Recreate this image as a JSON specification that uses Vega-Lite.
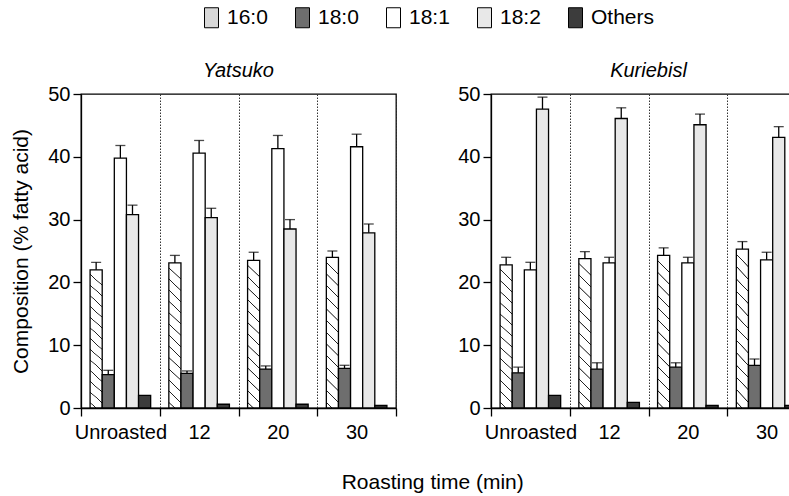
{
  "$schema": "https://vega.github.io/schema/vega-lite/v6.json",
  "padding": {"left": 10, "top": 7, "right": 0, "bottom": 5},
  "background": "white",
  "data": {"values": [
    {"cultivar": "Yatsuko", "time": "Unroasted", "acid": "16:0", "value": 22.0, "upper": 23.2},
    {"cultivar": "Yatsuko", "time": "Unroasted", "acid": "18:0", "value": 5.3, "upper": 6.0},
    {"cultivar": "Yatsuko", "time": "Unroasted", "acid": "18:1", "value": 39.8, "upper": 41.8},
    {"cultivar": "Yatsuko", "time": "Unroasted", "acid": "18:2", "value": 30.8, "upper": 32.3},
    {"cultivar": "Yatsuko", "time": "Unroasted", "acid": "Others", "value": 2.0, "upper": null},
    {"cultivar": "Yatsuko", "time": "12", "acid": "16:0", "value": 23.1, "upper": 24.3},
    {"cultivar": "Yatsuko", "time": "12", "acid": "18:0", "value": 5.5, "upper": 5.9},
    {"cultivar": "Yatsuko", "time": "12", "acid": "18:1", "value": 40.6, "upper": 42.6},
    {"cultivar": "Yatsuko", "time": "12", "acid": "18:2", "value": 30.3, "upper": 31.8},
    {"cultivar": "Yatsuko", "time": "12", "acid": "Others", "value": 0.6, "upper": null},
    {"cultivar": "Yatsuko", "time": "20", "acid": "16:0", "value": 23.5, "upper": 24.8},
    {"cultivar": "Yatsuko", "time": "20", "acid": "18:0", "value": 6.2, "upper": 6.7},
    {"cultivar": "Yatsuko", "time": "20", "acid": "18:1", "value": 41.3, "upper": 43.4},
    {"cultivar": "Yatsuko", "time": "20", "acid": "18:2", "value": 28.5, "upper": 30.0},
    {"cultivar": "Yatsuko", "time": "20", "acid": "Others", "value": 0.6, "upper": null},
    {"cultivar": "Yatsuko", "time": "30", "acid": "16:0", "value": 24.0, "upper": 25.0},
    {"cultivar": "Yatsuko", "time": "30", "acid": "18:0", "value": 6.3, "upper": 6.8},
    {"cultivar": "Yatsuko", "time": "30", "acid": "18:1", "value": 41.6, "upper": 43.6},
    {"cultivar": "Yatsuko", "time": "30", "acid": "18:2", "value": 27.9, "upper": 29.3},
    {"cultivar": "Yatsuko", "time": "30", "acid": "Others", "value": 0.4, "upper": null},
    {"cultivar": "Kuriebisl", "time": "Unroasted", "acid": "16:0", "value": 22.8, "upper": 24.0},
    {"cultivar": "Kuriebisl", "time": "Unroasted", "acid": "18:0", "value": 5.6, "upper": 6.5},
    {"cultivar": "Kuriebisl", "time": "Unroasted", "acid": "18:1", "value": 22.0, "upper": 23.2},
    {"cultivar": "Kuriebisl", "time": "Unroasted", "acid": "18:2", "value": 47.6, "upper": 49.5},
    {"cultivar": "Kuriebisl", "time": "Unroasted", "acid": "Others", "value": 2.0, "upper": null},
    {"cultivar": "Kuriebisl", "time": "12", "acid": "16:0", "value": 23.8, "upper": 24.9},
    {"cultivar": "Kuriebisl", "time": "12", "acid": "18:0", "value": 6.2, "upper": 7.2},
    {"cultivar": "Kuriebisl", "time": "12", "acid": "18:1", "value": 23.1, "upper": 24.0},
    {"cultivar": "Kuriebisl", "time": "12", "acid": "18:2", "value": 46.1, "upper": 47.8},
    {"cultivar": "Kuriebisl", "time": "12", "acid": "Others", "value": 0.9, "upper": null},
    {"cultivar": "Kuriebisl", "time": "20", "acid": "16:0", "value": 24.3, "upper": 25.5},
    {"cultivar": "Kuriebisl", "time": "20", "acid": "18:0", "value": 6.5, "upper": 7.2},
    {"cultivar": "Kuriebisl", "time": "20", "acid": "18:1", "value": 23.1, "upper": 24.0},
    {"cultivar": "Kuriebisl", "time": "20", "acid": "18:2", "value": 45.1, "upper": 46.8},
    {"cultivar": "Kuriebisl", "time": "20", "acid": "Others", "value": 0.4, "upper": null},
    {"cultivar": "Kuriebisl", "time": "30", "acid": "16:0", "value": 25.3, "upper": 26.5},
    {"cultivar": "Kuriebisl", "time": "30", "acid": "18:0", "value": 6.8, "upper": 7.8},
    {"cultivar": "Kuriebisl", "time": "30", "acid": "18:1", "value": 23.6, "upper": 24.8},
    {"cultivar": "Kuriebisl", "time": "30", "acid": "18:2", "value": 43.1, "upper": 44.8},
    {"cultivar": "Kuriebisl", "time": "30", "acid": "Others", "value": 0.4, "upper": null}
  ]},
  "config": {
    "font": "Liberation Sans",
    "view": {"stroke": "black", "strokeWidth": 1.3},
    "axis": {
      "labelFont": "Liberation Sans", "labelFontSize": 20, "labelColor": "black",
      "titleFont": "Liberation Sans", "titleFontSize": 21, "titleFontWeight": "normal", "titleColor": "black",
      "domainColor": "black", "tickColor": "black", "tickSize": 8, "domainWidth": 1.3, "tickWidth": 1.3
    },
    "legend": {"labelFont": "Liberation Sans", "labelFontSize": 21, "labelColor": "black"}
  },
  "spacing": 59,
  "title": {"text": "Roasting time (min)", "orient": "bottom", "anchor": "middle", "font": "Liberation Sans", "fontSize": 21, "fontWeight": "normal", "color": "black", "offset": 29, "dx": 24},
  "hconcat": [
    {
      "title": {"text": "Yatsuko", "fontStyle": "italic", "fontWeight": "normal", "fontSize": 20, "font": "Liberation Sans", "color": "black", "offset": 3},
      "width": 315, "height": 314,
      "transform": [{"filter": "datum.cultivar == 'Yatsuko'"}],
      "encoding": {
        "x": {"field": "time", "type": "nominal", "sort": ["Unroasted", "12", "20", "30"],
              "scale": {"paddingInner": 0, "paddingOuter": 0},
              "axis": {"title": null, "labelAngle": 0, "tickBand": "extent", "grid": true, "gridDash": [1.5, 1.5], "gridColor": "#333", "gridWidth": 1, "labelPadding": 6}},
        "xOffset": {"field": "acid", "type": "nominal", "sort": ["16:0", "18:0", "18:1", "18:2", "Others"],
                    "scale": {"paddingInner": 0, "paddingOuter": 0.75}}
      },
      "layer": [
        {
          "mark": {"type": "bar", "stroke": "black", "strokeWidth": 1.3},
          "encoding": {
            "y": {"field": "value", "type": "quantitative", "scale": {"domain": [0, 50]},
                  "axis": {"title": "Composition (% fatty acid)", "values": [0, 10, 20, 30, 40, 50], "grid": false, "labelPadding": 3, "titlePadding": 16}},
            "fill": {"condition": {"test": "datum.acid == '16:0'", "value": {"gradient": "linear", "x1": 0.08, "y1": 0, "x2": 0, "y2": 1, "stops": [
                         {"offset": 0.0, "color": "#ffffff"},
                         {"offset": 0.0335, "color": "#ffffff"}, {"offset": 0.0365, "color": "#222222"}, {"offset": 0.0405, "color": "#222222"}, {"offset": 0.0435, "color": "#ffffff"},
                         {"offset": 0.1104, "color": "#ffffff"}, {"offset": 0.1134, "color": "#222222"}, {"offset": 0.1174, "color": "#222222"}, {"offset": 0.1204, "color": "#ffffff"},
                         {"offset": 0.1873, "color": "#ffffff"}, {"offset": 0.1903, "color": "#222222"}, {"offset": 0.1943, "color": "#222222"}, {"offset": 0.1973, "color": "#ffffff"},
                         {"offset": 0.2642, "color": "#ffffff"}, {"offset": 0.2672, "color": "#222222"}, {"offset": 0.2712, "color": "#222222"}, {"offset": 0.2742, "color": "#ffffff"},
                         {"offset": 0.3412, "color": "#ffffff"}, {"offset": 0.3442, "color": "#222222"}, {"offset": 0.3482, "color": "#222222"}, {"offset": 0.3512, "color": "#ffffff"},
                         {"offset": 0.4181, "color": "#ffffff"}, {"offset": 0.4211, "color": "#222222"}, {"offset": 0.4251, "color": "#222222"}, {"offset": 0.4281, "color": "#ffffff"},
                         {"offset": 0.4950, "color": "#ffffff"}, {"offset": 0.4980, "color": "#222222"}, {"offset": 0.5020, "color": "#222222"}, {"offset": 0.5050, "color": "#ffffff"},
                         {"offset": 0.5719, "color": "#ffffff"}, {"offset": 0.5749, "color": "#222222"}, {"offset": 0.5789, "color": "#222222"}, {"offset": 0.5819, "color": "#ffffff"},
                         {"offset": 0.6488, "color": "#ffffff"}, {"offset": 0.6518, "color": "#222222"}, {"offset": 0.6558, "color": "#222222"}, {"offset": 0.6588, "color": "#ffffff"},
                         {"offset": 0.7258, "color": "#ffffff"}, {"offset": 0.7288, "color": "#222222"}, {"offset": 0.7328, "color": "#222222"}, {"offset": 0.7358, "color": "#ffffff"},
                         {"offset": 0.8027, "color": "#ffffff"}, {"offset": 0.8057, "color": "#222222"}, {"offset": 0.8097, "color": "#222222"}, {"offset": 0.8127, "color": "#ffffff"},
                         {"offset": 0.8796, "color": "#ffffff"}, {"offset": 0.8826, "color": "#222222"}, {"offset": 0.8866, "color": "#222222"}, {"offset": 0.8896, "color": "#ffffff"},
                         {"offset": 0.9565, "color": "#ffffff"}, {"offset": 0.9595, "color": "#222222"}, {"offset": 0.9635, "color": "#222222"}, {"offset": 0.9665, "color": "#ffffff"},
                         {"offset": 1.0, "color": "#ffffff"}
                       ]}},
                     "field": "acid", "type": "nominal", "sort": ["16:0", "18:0", "18:1", "18:2", "Others"],
                     "scale": {"domain": ["16:0", "18:0", "18:1", "18:2", "Others"], "range": ["#d8d8d8", "#6e6e6e", "#ffffff", "#e8e8e8", "#3c3c3c"]},
                     "legend": {"title": null, "orient": "none", "direction": "horizontal", "legendX": 120, "legendY": -87, "symbolType": "M-0.7,-1H0.7V1H-0.7Z", "symbolSize": 400, "symbolStrokeColor": "black", "symbolStrokeWidth": 1, "symbolOpacity": 1, "columnPadding": 24, "labelOffset": 5}}
          }
        },
        {
          "transform": [{"filter": "datum.upper != null"}],
          "mark": {"type": "rule", "color": "black", "strokeWidth": 1.3},
          "encoding": {"y": {"field": "value", "type": "quantitative"}, "y2": {"field": "upper"}}
        },
        {
          "transform": [{"filter": "datum.upper != null"}],
          "mark": {"type": "tick", "color": "black", "orient": "horizontal", "size": 10, "thickness": 1.3},
          "encoding": {"y": {"field": "upper", "type": "quantitative"}}
        }
      ]
    },
    {
      "title": {"text": "Kuriebisl", "fontStyle": "italic", "fontWeight": "normal", "fontSize": 20, "font": "Liberation Sans", "color": "black", "offset": 3},
      "width": 315, "height": 314,
      "transform": [{"filter": "datum.cultivar == 'Kuriebisl'"}],
      "encoding": {
        "x": {"field": "time", "type": "nominal", "sort": ["Unroasted", "12", "20", "30"],
              "scale": {"paddingInner": 0, "paddingOuter": 0},
              "axis": {"title": null, "labelAngle": 0, "tickBand": "extent", "grid": true, "gridDash": [1.5, 1.5], "gridColor": "#333", "gridWidth": 1, "labelPadding": 6}},
        "xOffset": {"field": "acid", "type": "nominal", "sort": ["16:0", "18:0", "18:1", "18:2", "Others"],
                    "scale": {"paddingInner": 0, "paddingOuter": 0.75}}
      },
      "layer": [
        {
          "mark": {"type": "bar", "stroke": "black", "strokeWidth": 1.3},
          "encoding": {
            "y": {"field": "value", "type": "quantitative", "scale": {"domain": [0, 50]},
                  "axis": {"title": null, "values": [0, 10, 20, 30, 40, 50], "grid": false, "labelPadding": 3}},
            "fill": {"condition": {"test": "datum.acid == '16:0'", "value": {"gradient": "linear", "x1": 0.08, "y1": 0, "x2": 0, "y2": 1, "stops": [
                         {"offset": 0.0, "color": "#ffffff"},
                         {"offset": 0.0335, "color": "#ffffff"}, {"offset": 0.0365, "color": "#222222"}, {"offset": 0.0405, "color": "#222222"}, {"offset": 0.0435, "color": "#ffffff"},
                         {"offset": 0.1104, "color": "#ffffff"}, {"offset": 0.1134, "color": "#222222"}, {"offset": 0.1174, "color": "#222222"}, {"offset": 0.1204, "color": "#ffffff"},
                         {"offset": 0.1873, "color": "#ffffff"}, {"offset": 0.1903, "color": "#222222"}, {"offset": 0.1943, "color": "#222222"}, {"offset": 0.1973, "color": "#ffffff"},
                         {"offset": 0.2642, "color": "#ffffff"}, {"offset": 0.2672, "color": "#222222"}, {"offset": 0.2712, "color": "#222222"}, {"offset": 0.2742, "color": "#ffffff"},
                         {"offset": 0.3412, "color": "#ffffff"}, {"offset": 0.3442, "color": "#222222"}, {"offset": 0.3482, "color": "#222222"}, {"offset": 0.3512, "color": "#ffffff"},
                         {"offset": 0.4181, "color": "#ffffff"}, {"offset": 0.4211, "color": "#222222"}, {"offset": 0.4251, "color": "#222222"}, {"offset": 0.4281, "color": "#ffffff"},
                         {"offset": 0.4950, "color": "#ffffff"}, {"offset": 0.4980, "color": "#222222"}, {"offset": 0.5020, "color": "#222222"}, {"offset": 0.5050, "color": "#ffffff"},
                         {"offset": 0.5719, "color": "#ffffff"}, {"offset": 0.5749, "color": "#222222"}, {"offset": 0.5789, "color": "#222222"}, {"offset": 0.5819, "color": "#ffffff"},
                         {"offset": 0.6488, "color": "#ffffff"}, {"offset": 0.6518, "color": "#222222"}, {"offset": 0.6558, "color": "#222222"}, {"offset": 0.6588, "color": "#ffffff"},
                         {"offset": 0.7258, "color": "#ffffff"}, {"offset": 0.7288, "color": "#222222"}, {"offset": 0.7328, "color": "#222222"}, {"offset": 0.7358, "color": "#ffffff"},
                         {"offset": 0.8027, "color": "#ffffff"}, {"offset": 0.8057, "color": "#222222"}, {"offset": 0.8097, "color": "#222222"}, {"offset": 0.8127, "color": "#ffffff"},
                         {"offset": 0.8796, "color": "#ffffff"}, {"offset": 0.8826, "color": "#222222"}, {"offset": 0.8866, "color": "#222222"}, {"offset": 0.8896, "color": "#ffffff"},
                         {"offset": 0.9565, "color": "#ffffff"}, {"offset": 0.9595, "color": "#222222"}, {"offset": 0.9635, "color": "#222222"}, {"offset": 0.9665, "color": "#ffffff"},
                         {"offset": 1.0, "color": "#ffffff"}
                       ]}},
                     "field": "acid", "type": "nominal", "sort": ["16:0", "18:0", "18:1", "18:2", "Others"],
                     "legend": null}
          }
        },
        {
          "transform": [{"filter": "datum.upper != null"}],
          "mark": {"type": "rule", "color": "black", "strokeWidth": 1.3},
          "encoding": {"y": {"field": "value", "type": "quantitative"}, "y2": {"field": "upper"}}
        },
        {
          "transform": [{"filter": "datum.upper != null"}],
          "mark": {"type": "tick", "color": "black", "orient": "horizontal", "size": 10, "thickness": 1.3},
          "encoding": {"y": {"field": "upper", "type": "quantitative"}}
        }
      ]
    }
  ]
}
